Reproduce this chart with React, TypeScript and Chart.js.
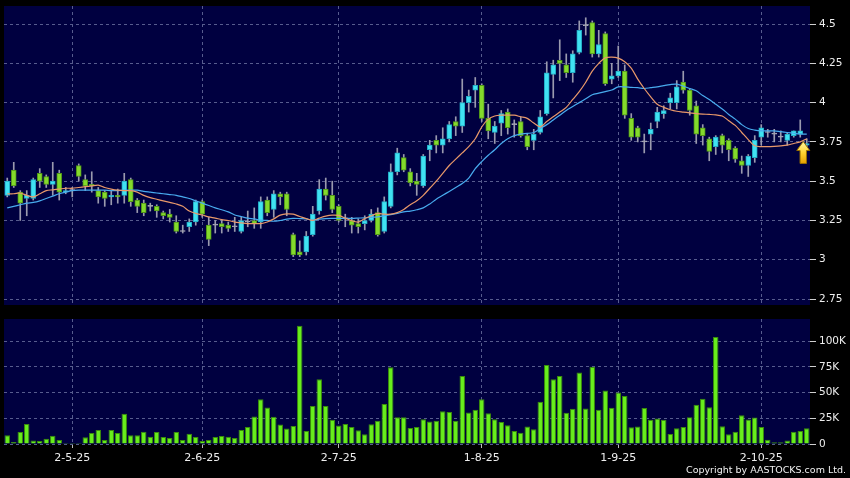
import React, { useEffect, useRef } from 'react';
import { Chart, registerables } from 'chart.js';

Chart.register(...registerables);
Chart.defaults.font.family = "'DejaVu Sans', sans-serif";

// ---- data ----
const opens = [
  3.41, 3.57, 3.43, 3.39, 3.39, 3.55, 3.53, 3.48, 3.55, 3.43,
  3.44, 3.60, 3.51, 3.48, 3.44, 3.43, 3.40, 3.41, 3.41, 3.51,
  3.38, 3.36, 3.34, 3.34, 3.30, 3.29, 3.24, 3.18, 3.21, 3.24,
  3.37, 3.22, 3.22, 3.23, 3.22, 3.21, 3.18, 3.24, 3.25, 3.24,
  3.38, 3.32, 3.42, 3.42, 3.16, 3.05, 3.05, 3.16, 3.31, 3.45,
  3.41, 3.34, 3.26, 3.25, 3.23, 3.23, 3.25, 3.30, 3.18, 3.34,
  3.56, 3.65, 3.56, 3.50, 3.47, 3.70, 3.76, 3.73, 3.77, 3.88,
  3.85, 4.00, 4.08, 4.11, 3.90, 3.81, 3.87, 3.94, 3.86, 3.88,
  3.79, 3.76, 3.81, 3.93, 4.18, 4.27, 4.24, 4.19, 4.32, 4.49,
  4.51, 4.31, 4.44, 4.15, 4.17, 4.20, 3.90, 3.84, 3.75, 3.80,
  3.88, 3.93, 4.00, 4.00, 4.13, 4.08, 3.98, 3.84, 3.77, 3.72,
  3.79, 3.76, 3.71, 3.63, 3.60, 3.65, 3.78, 3.81, 3.80, 3.78,
  3.76, 3.79, 3.80, 3.73,
];
const highs = [
  3.52, 3.62, 3.44, 3.44, 3.52, 3.58, 3.54, 3.62, 3.57, 3.46,
  3.46, 3.61, 3.54, 3.56, 3.46, 3.44, 3.44, 3.45, 3.55, 3.52,
  3.39, 3.38, 3.36, 3.35, 3.31, 3.32, 3.28, 3.22, 3.26, 3.38,
  3.38, 3.27, 3.25, 3.25, 3.24, 3.27, 3.27, 3.31, 3.33, 3.40,
  3.40, 3.44, 3.43, 3.43, 3.17, 3.12, 3.18, 3.34, 3.51, 3.52,
  3.50, 3.35, 3.29, 3.27, 3.26, 3.28, 3.32, 3.33, 3.40, 3.61,
  3.71, 3.67, 3.58, 3.55, 3.67, 3.76, 3.79, 3.84, 3.88, 3.91,
  4.15, 4.08, 4.16, 4.12, 3.99, 3.88, 3.95, 3.96, 3.89, 3.91,
  3.80, 3.83, 3.95, 4.26, 4.27, 4.40, 4.31, 4.33, 4.52, 4.54,
  4.52, 4.46, 4.45, 4.25, 4.36, 4.24, 3.93, 3.85, 3.80, 3.87,
  3.97, 3.98, 4.06, 4.14, 4.20, 4.09, 4.01, 3.86, 3.78, 3.79,
  3.80, 3.77, 3.72, 3.66, 3.67, 3.79, 3.86, 3.83, 3.83, 3.82,
  3.81, 3.82, 3.89, 3.77,
];
const lows = [
  3.40, 3.46, 3.25, 3.28, 3.38, 3.46, 3.46, 3.41, 3.38, 3.42,
  3.40, 3.50, 3.44, 3.43, 3.36, 3.34, 3.35, 3.36, 3.36, 3.34,
  3.30, 3.28, 3.31, 3.27, 3.26, 3.24, 3.17, 3.17, 3.18, 3.22,
  3.27, 3.09, 3.17, 3.17, 3.18, 3.18, 3.17, 3.21, 3.20, 3.20,
  3.28, 3.27, 3.35, 3.28, 3.02, 3.02, 3.03, 3.15, 3.29, 3.38,
  3.30, 3.24, 3.21, 3.17, 3.17, 3.19, 3.24, 3.15, 3.17, 3.33,
  3.54, 3.56, 3.47, 3.41, 3.46, 3.63, 3.68, 3.68, 3.75, 3.79,
  3.81, 3.94, 3.97, 3.88, 3.77, 3.74, 3.79, 3.80, 3.78, 3.78,
  3.70, 3.70, 3.80, 3.92, 4.03, 4.14, 4.16, 4.13, 4.31, 4.43,
  4.29, 4.29, 4.11, 4.12, 4.16, 3.90, 3.76, 3.75, 3.68, 3.70,
  3.84, 3.90, 3.96, 3.96, 4.06, 3.92, 3.74, 3.73, 3.63, 3.67,
  3.68, 3.63, 3.62, 3.55, 3.53, 3.62, 3.73, 3.78, 3.75, 3.75,
  3.73, 3.78, 3.78, 3.71,
];
const closes = [
  3.50, 3.47, 3.36, 3.41, 3.51, 3.50, 3.48, 3.50, 3.43, 3.44,
  3.44, 3.53, 3.47, 3.47, 3.40, 3.39, 3.41, 3.40, 3.50, 3.37,
  3.34, 3.30, 3.34, 3.31, 3.28, 3.27, 3.18, 3.18, 3.24, 3.37,
  3.29, 3.13, 3.22, 3.21, 3.20, 3.21, 3.25, 3.24, 3.23, 3.37,
  3.30, 3.42, 3.40, 3.32, 3.03, 3.03, 3.15, 3.29, 3.45, 3.41,
  3.32, 3.25, 3.26, 3.22, 3.21, 3.25, 3.29, 3.16, 3.37, 3.56,
  3.68, 3.57, 3.49, 3.48, 3.66, 3.73, 3.73, 3.77, 3.86, 3.85,
  4.00, 4.04, 4.11, 3.90, 3.82, 3.85, 3.93, 3.84, 3.86, 3.79,
  3.72, 3.80, 3.91, 4.19, 4.24, 4.25, 4.19, 4.31, 4.46, 4.49,
  4.31, 4.37, 4.12, 4.17, 4.20, 3.92, 3.78, 3.78, 3.75, 3.83,
  3.94, 3.95, 4.03, 4.10, 4.08, 3.95, 3.80, 3.79, 3.69, 3.78,
  3.73, 3.70, 3.64, 3.60, 3.66, 3.76, 3.84, 3.81, 3.80, 3.78,
  3.80, 3.82, 3.82, 3.74,
];
const ma10 = [
  3.42, 3.42, 3.425, 3.41, 3.40, 3.42, 3.44, 3.445, 3.45, 3.455,
  3.455, 3.46, 3.465, 3.47, 3.475, 3.46, 3.45, 3.443, 3.44, 3.44,
  3.43, 3.41, 3.395, 3.385, 3.375, 3.365, 3.355, 3.34, 3.31, 3.295,
  3.285, 3.273, 3.265, 3.255, 3.25, 3.24, 3.235, 3.23, 3.23, 3.23,
  3.24, 3.26, 3.284, 3.292, 3.29, 3.275, 3.262, 3.25, 3.265, 3.278,
  3.284, 3.282, 3.265, 3.248, 3.24, 3.262, 3.28, 3.295, 3.29, 3.29,
  3.30, 3.32, 3.35, 3.375, 3.41, 3.455, 3.50, 3.55, 3.60, 3.64,
  3.68, 3.72, 3.77, 3.845, 3.895, 3.915, 3.92, 3.92, 3.92, 3.91,
  3.90, 3.87, 3.846, 3.88, 3.91, 3.94, 3.97, 4.02, 4.07, 4.13,
  4.20, 4.25, 4.285, 4.29, 4.283, 4.26, 4.22, 4.15, 4.09, 4.037,
  3.99, 3.97, 3.955, 3.945, 3.94, 3.935, 3.93, 3.927, 3.925, 3.922,
  3.915, 3.885, 3.855, 3.81, 3.765, 3.725, 3.72, 3.72, 3.722, 3.725,
  3.73, 3.74, 3.75, 3.77,
];
const ma20 = [
  3.33, 3.34, 3.35, 3.36, 3.365, 3.375, 3.39, 3.405, 3.42, 3.43,
  3.44, 3.443, 3.443, 3.443, 3.443, 3.443, 3.44, 3.44, 3.442, 3.443,
  3.443, 3.435, 3.43, 3.425, 3.42, 3.415, 3.41, 3.40, 3.39, 3.375,
  3.36, 3.345, 3.33, 3.318, 3.305, 3.285, 3.275, 3.265, 3.26, 3.252,
  3.25, 3.245, 3.25, 3.258, 3.263, 3.262, 3.26, 3.252, 3.258, 3.262,
  3.263, 3.263, 3.263, 3.263, 3.265, 3.267, 3.27, 3.273, 3.28, 3.287,
  3.295, 3.305, 3.31, 3.318, 3.33, 3.355, 3.385, 3.41, 3.435, 3.46,
  3.485, 3.52, 3.58, 3.625, 3.665, 3.70, 3.74, 3.77, 3.79, 3.80,
  3.804, 3.81, 3.836, 3.86, 3.89, 3.92, 3.95, 3.975, 4.00, 4.025,
  4.05, 4.06, 4.07, 4.08, 4.10, 4.10, 4.097, 4.095, 4.09, 4.095,
  4.10, 4.108, 4.115, 4.118, 4.105, 4.09, 4.075, 4.045, 4.02, 3.99,
  3.96, 3.925, 3.895, 3.86, 3.835, 3.825, 3.82, 3.82, 3.82, 3.815,
  3.81, 3.805, 3.80, 3.80,
];
const volumes = [
  8500, 2000, 11700, 19500, 3300, 3000, 5000, 8000, 4000, 1000,
  1000, 1000, 6500, 10700, 13700, 4000, 13700, 10700, 29300, 8500,
  8500, 12000, 7000, 11700, 6800, 5900, 11700, 4000, 10000, 6800,
  3000, 4000, 6800, 7800, 7000, 5900, 13700, 16600, 26700, 43600,
  35500, 26400, 18900, 15000, 17600, 115000, 12700, 37000, 62900, 37000,
  23500, 17900, 19500, 16600, 13400, 9400, 19200, 22500, 38800, 74600,
  26000, 26000, 15600, 16600, 24000, 21800, 22500, 31900, 31000, 22500,
  66000, 30600, 33200, 43600, 30000, 24000, 21500, 18200, 12700, 11000,
  17000, 14300, 41000, 76900, 62900, 66000, 30300, 34200, 69400, 34500,
  75000, 33200, 52000, 35200, 50000, 46600, 16300, 17000, 34900, 23500,
  24800, 23500, 9800, 15300, 16600, 26000, 38100, 44000, 35800, 104000,
  17300, 9400, 12000, 28000, 23800, 25700, 16600, 4200, 1600, 1600,
  3300, 12000, 12700, 15300,
];
const sessions = opens.map((_, i) => String(i));
const xTickIndex = [10, 30, 51, 73, 94, 116];
const xTickLabels = ['2-5-25', '2-6-25', '2-7-25', '1-8-25', '1-9-25', '2-10-25'];
const priceTicks = [2.75, 3, 3.25, 3.5, 3.75, 4, 4.25, 4.5];
const priceTickLabels = ['2.75', '3', '3.25', '3.5', '3.75', '4', '4.25', '4.5'];
const volumeTicks = [0, 25000, 50000, 75000, 100000];
const volumeTickLabels = ['0', '25K', '50K', '75K', '100K'];

// ---- styles ----
const UP = '#40e2f2';
const UP_EDGE = '#22aac4';
const DOWN = '#84da2c';
const DOWN_EDGE = '#4f9418';
const DOJI = '#a8a8b6';
const WICK = '#9a9aae';
const PLOT_BG = '#000040';
const GRID = '#575c8e';
const LABEL = '#eeeeee';
const VOL = '#68ee1c';
const VOL_EDGE = '#3a8c0c';

const plotBg = {
  id: 'plotBg',
  beforeDraw(chart: any) {
    const { ctx, chartArea: a, width, height } = chart;
    ctx.save();
    ctx.fillStyle = '#000000';
    ctx.fillRect(0, 0, width, height);
    ctx.fillStyle = PLOT_BG;
    ctx.fillRect(a.left, a.top, a.right - a.left, a.bottom - a.top);
    ctx.restore();
  },
};

const lastArrow = {
  id: 'lastArrow',
  afterDatasetsDraw(chart: any) {
    const last = closes.length - 1;
    const { ctx, scales } = chart;
    const cx = scales.x.getPixelForValue(last) - 3.5;
    const tip = scales.y.getPixelForValue(closes[last]) - 2;
    const hw = 6.5, headH = 9, sw = 3.2, len = 22;
    ctx.save();
    const g = ctx.createLinearGradient(0, tip, 0, tip + len);
    g.addColorStop(0, '#fff7a8');
    g.addColorStop(0.5, '#ffd534');
    g.addColorStop(1, '#e8a200');
    ctx.beginPath();
    ctx.moveTo(cx, tip);
    ctx.lineTo(cx + hw, tip + headH);
    ctx.lineTo(cx + sw, tip + headH);
    ctx.lineTo(cx + sw, tip + len);
    ctx.lineTo(cx - sw, tip + len);
    ctx.lineTo(cx - sw, tip + headH);
    ctx.lineTo(cx - hw, tip + headH);
    ctx.closePath();
    ctx.fillStyle = g;
    ctx.fill();
    ctx.strokeStyle = '#9a7000';
    ctx.lineWidth = 1;
    ctx.stroke();
    ctx.restore();
  },
};

const dirOf = (i: number) => (closes[i] > opens[i] ? 1 : closes[i] < opens[i] ? -1 : 0);
const bodyFill = opens.map((_, i) => (dirOf(i) > 0 ? UP : dirOf(i) < 0 ? DOWN : DOJI));
const bodyEdge = opens.map((_, i) => (dirOf(i) > 0 ? UP_EDGE : dirOf(i) < 0 ? DOWN_EDGE : DOJI));

const xTicksHook = (s: any) => {
  s.ticks = xTickIndex.map((v) => ({ value: v }));
};
const zeroPad = (s: any) => {
  s.paddingTop = 0;
  s.paddingBottom = 0;
  s.paddingLeft = 0;
  s.paddingRight = 0;
};

export default function App() {
  const topRef = useRef<HTMLCanvasElement | null>(null);
  const volRef = useRef<HTMLCanvasElement | null>(null);

  useEffect(() => {
    const top = new Chart(topRef.current as HTMLCanvasElement, {
      type: 'bar',
      data: {
        labels: sessions,
        datasets: [
          {
            type: 'line', label: 'MA10', data: ma10, borderColor: '#e8986a', borderWidth: 1.2,
            pointRadius: 0, tension: 0.3, order: 0,
          } as any,
          {
            type: 'line', label: 'MA20', data: ma20, borderColor: '#48abee', borderWidth: 1.2,
            pointRadius: 0, tension: 0.3, order: 0,
          } as any,
          {
            type: 'bar', label: 'body', data: opens.map((o, i) => [o, closes[i]]),
            backgroundColor: bodyFill, borderColor: bodyEdge, borderWidth: 1, borderSkipped: false,
            barThickness: 5, minBarLength: 1, grouped: false, order: 1,
          } as any,
          {
            type: 'bar', label: 'wick', data: lows.map((l, i) => [l, highs[i]]),
            backgroundColor: WICK, borderWidth: 0, barThickness: 1, grouped: false, order: 2,
          } as any,
        ],
      },
      options: {
        responsive: false,
        animation: false,
        events: [],
        layout: { padding: { left: 4, top: 6, right: 0, bottom: 7 } },
        plugins: { legend: { display: false }, tooltip: { enabled: false } },
        scales: {
          x: {
            offset: true,
            grid: { offset: false, color: GRID, drawTicks: false },
            border: { display: false, dash: [3, 3] },
            ticks: { display: false, autoSkip: false },
            afterBuildTicks: xTicksHook,
            afterFit: (s: any) => { s.height = 0; zeroPad(s); },
          },
          y: {
            position: 'right',
            min: 2.712,
            max: 4.615,
            grid: { color: GRID, drawTicks: true, tickLength: 6, tickColor: '#cfcfcf', tickWidth: 1 },
            border: { display: false, dash: [3, 3] },
            ticks: {
              color: LABEL, font: { size: 10.5 }, padding: 3,
              callback: (v: any) => priceTickLabels[priceTicks.indexOf(Number(v))] ?? '',
            },
            afterBuildTicks: (s: any) => { s.ticks = priceTicks.map((v) => ({ value: v })); },
            afterFit: (s: any) => { s.width = 40; zeroPad(s); },
          },
        },
      } as any,
      plugins: [plotBg, lastArrow],
    });

    const vol = new Chart(volRef.current as HTMLCanvasElement, {
      type: 'bar',
      data: {
        labels: sessions,
        datasets: [
          {
            label: 'Volume', data: volumes, backgroundColor: VOL, borderColor: VOL_EDGE,
            borderWidth: 1, categoryPercentage: 1, barPercentage: 0.84,
          } as any,
        ],
      },
      options: {
        responsive: false,
        animation: false,
        events: [],
        layout: { padding: { left: 4, top: 7, right: 0, bottom: 0 } },
        plugins: { legend: { display: false }, tooltip: { enabled: false } },
        scales: {
          x: {
            offset: true,
            grid: { offset: false, color: GRID, drawTicks: true, tickLength: 4, tickColor: '#bdbdbd' },
            border: { display: false, dash: [3, 3] },
            ticks: {
              color: LABEL, font: { size: 11 }, padding: 4, autoSkip: false, maxRotation: 0,
              callback: (v: any) => xTickLabels[xTickIndex.indexOf(Number(v))] ?? '',
            },
            afterBuildTicks: xTicksHook,
            afterFit: (s: any) => { s.height = 34; zeroPad(s); },
          },
          y: {
            position: 'right',
            min: 0,
            max: 121500,
            grid: { color: GRID, drawTicks: true, tickLength: 6, tickColor: '#cfcfcf', tickWidth: 1 },
            border: { display: false, dash: [3, 3] },
            ticks: {
              color: LABEL, font: { size: 10.5 }, padding: 3,
              callback: (v: any) => volumeTickLabels[volumeTicks.indexOf(Number(v))] ?? '',
            },
            afterBuildTicks: (s: any) => { s.ticks = volumeTicks.map((v) => ({ value: v })); },
            afterFit: (s: any) => { s.width = 40; zeroPad(s); },
          },
        },
      } as any,
      plugins: [plotBg],
    });

    return () => {
      top.destroy();
      vol.destroy();
    };
  }, []);

  return (
    <div style={{ position: 'absolute', left: 0, top: 0, width: 850, height: 478, background: '#000', overflow: 'hidden' }}>
      <canvas ref={topRef} width={850} height={312} style={{ position: 'absolute', left: 0, top: 0 }} />
      <canvas ref={volRef} width={850} height={166} style={{ position: 'absolute', left: 0, top: 312 }} />
      <div
        style={{
          position: 'absolute', right: 4, top: 464, color: '#f2f2f2',
          fontFamily: "'DejaVu Sans', sans-serif", fontSize: 9.5, lineHeight: '12px', whiteSpace: 'nowrap',
        }}
      >
        Copyright by AASTOCKS.com Ltd.
      </div>
    </div>
  );
}
